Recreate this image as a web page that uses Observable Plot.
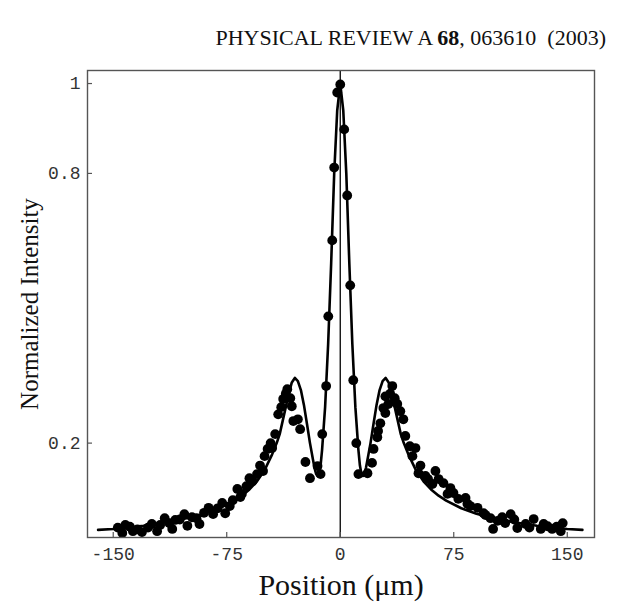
<!DOCTYPE html>
<html>
<head>
<meta charset="utf-8">
<script src="https://cdn.jsdelivr.net/npm/d3@7"></script>
<script src="https://cdn.jsdelivr.net/npm/@observablehq/plot@0.6"></script>
<style>
  html, body { margin: 0; padding: 0; background: #fff; }
  #wrap { position: relative; width: 619px; height: 612px; }
  #header { position: absolute; left: 0; top: 8px; width: 606px; height: 60px; text-align: right;
            font-family: "Liberation Serif", "Times New Roman", serif; font-size: 22px; color: #111;
            line-height: 60px; white-space: pre; }
  #chart { position: absolute; left: 0; top: 60px; }
</style>
</head>
<body>
<div id="wrap">
  <div id="header">PHYSICAL REVIEW A <b>68</b>, 063610  (2003)</div>
  <div id="chart"></div>
</div>
<script>
// measured data points (position in µm, normalized intensity)
const pointX = [-147, -144, -142, -139, -137, -134, -131, -127, -124.5, -121, -119, -116, -113, -111, -109, -106, -103, -101, -98, -95, -93, -90, -87, -84, -81, -78, -76, -73, -71, -68, -66, -65, -62, -60, -58, -55, -53, -51, -50, -48, -46, -45, -43, -41, -39, -37.7, -36, -35, -33, -32, -31, -28, -26.5, -23, -20, -15, -13, -11.9, -9.3, -7.9, -5.3, -4, -2, 0, 2.6, 4.6, 6.6, 8.6, 10.6, 12, 18, 21, 22, 24.5, 25, 26.5, 28.5, 29.8, 29.8, 31.8, 33, 34.4, 36, 37.7, 39.7, 41.7, 43, 46, 47.7, 49.7, 51.7, 53, 56.3, 58, 60.9, 62.9, 65, 68.2, 70.9, 72.8, 74.8, 78, 82.8, 84, 86, 90.7, 94.7, 96, 99.3, 101, 104, 107, 109, 112.6, 115, 117, 122.5, 125, 127.8, 132.5, 134.4, 137, 140, 143, 145.7, 147];
const pointY = [0.012, 0.0, 0.018, 0.014, 0.004, 0.008, 0.002, 0.012, 0.02, 0.004, 0.018, 0.033, 0.022, 0.009, 0.029, 0.03, 0.042, 0.016, 0.035, 0.033, 0.02, 0.045, 0.056, 0.042, 0.055, 0.067, 0.044, 0.06, 0.073, 0.098, 0.08, 0.087, 0.104, 0.122, 0.115, 0.131, 0.15, 0.138, 0.171, 0.187, 0.2, 0.189, 0.22, 0.264, 0.28, 0.298, 0.31, 0.32, 0.3, 0.282, 0.249, 0.253, 0.231, 0.158, 0.122, 0.149, 0.131, 0.22, 0.327, 0.482, 0.651, 0.813, 0.98, 0.998, 0.898, 0.751, 0.551, 0.34, 0.2, 0.131, 0.133, 0.156, 0.187, 0.213, 0.227, 0.244, 0.278, 0.304, 0.267, 0.287, 0.31, 0.327, 0.3, 0.287, 0.271, 0.253, 0.216, 0.193, 0.171, 0.189, 0.133, 0.15, 0.127, 0.12, 0.109, 0.138, 0.12, 0.111, 0.087, 0.1, 0.089, 0.076, 0.078, 0.065, 0.06, 0.056, 0.044, 0.04, 0.033, 0.009, 0.027, 0.035, 0.022, 0.042, 0.03, 0.011, 0.02, 0.012, 0.031, 0.009, 0.02, 0.015, 0.009, 0.014, 0.004, 0.022];

// fitted theory curve (right half; mirrored to the left)
const curveX = [0, 2, 4, 6, 8, 10, 12, 13, 14, 15, 16, 17, 18, 20, 22, 24, 26, 28, 30, 32, 34, 36, 38, 40, 42, 45, 50, 55, 60, 65, 70, 80, 90, 100, 110, 120, 130, 140, 150, 160];
const curveY = [1.0, 0.94, 0.8, 0.6, 0.42, 0.28, 0.185, 0.15, 0.132, 0.127, 0.132, 0.145, 0.163, 0.2, 0.243, 0.285, 0.318, 0.338, 0.345, 0.335, 0.31, 0.28, 0.25, 0.22, 0.2, 0.175, 0.14, 0.115, 0.097, 0.083, 0.072, 0.055, 0.043, 0.034, 0.027, 0.021, 0.016, 0.012, 0.009, 0.007];

const xTicks = [-150, -75, 0, 75, 150];
const yTicks = [1, 0.8, 0.2];
const yTickLabels = ["1", "0.8", "0.2"];

const points = pointX.map((x, i) => ({x, y: pointY[i]}));
const curve = [];
for (let i = curveX.length - 1; i > 0; i--) curve.push({x: -curveX[i], y: curveY[i]});
for (let i = 0; i < curveX.length; i++) curve.push({x: curveX[i], y: curveY[i]});

const monoFont = "Liberation Mono, Courier New, monospace";

const chart = Plot.plot({
  width: 619,
  height: 552,
  marginTop: 10,
  marginLeft: 87,
  marginRight: 25,
  marginBottom: 75,
  x: {domain: [-167, 168]},
  y: {domain: [-0.01, 1.029]},
  style: {background: "white"},
  marks: [
    Plot.line(curve, {x: "x", y: "y", stroke: "black", strokeWidth: 2.6, clip: true}),
    Plot.dot(points, {x: "x", y: "y", r: 4.9, fill: "black", stroke: "none", clip: true}),
    Plot.ruleX([0], {stroke: "black", strokeWidth: 1.3}),
    Plot.frame({stroke: "#555", strokeWidth: 1.4}),
    Plot.axisX({ticks: xTicks, tickSize: 5, dy: -5, stroke: "#555", strokeWidth: 1.2, text: null, label: null}),
    Plot.axisX({ticks: xTicks, tickSize: 0, tickPadding: 10, label: null,
                tickFormat: d => d < 0 ? "-" + Math.abs(d) : String(d),
                fontSize: 18, fontFamily: monoFont, fill: "#333"}),
    Plot.axisY({ticks: yTicks, tickSize: 5, dx: 5, stroke: "#555", strokeWidth: 1.2, text: null, label: null}),
    Plot.axisY({ticks: yTicks, tickSize: 0, tickPadding: 7, label: null,
                tickFormat: (d, i) => yTickLabels[i],
                fontSize: 18, fontFamily: monoFont, fill: "#333"}),
    Plot.text(["Normalized Intensity"], {frameAnchor: "left", dx: -58, rotate: -90, textAnchor: "middle",
               fontSize: 25, fontFamily: "Liberation Serif, serif", fill: "#111"}),
    Plot.text(["Position (\u03bcm)"], {frameAnchor: "bottom", dy: 57,
               fontSize: 30, fontFamily: "Liberation Serif, serif", fill: "#111"})
  ]
});
document.getElementById("chart").appendChild(chart);
</script>
</body>
</html>
